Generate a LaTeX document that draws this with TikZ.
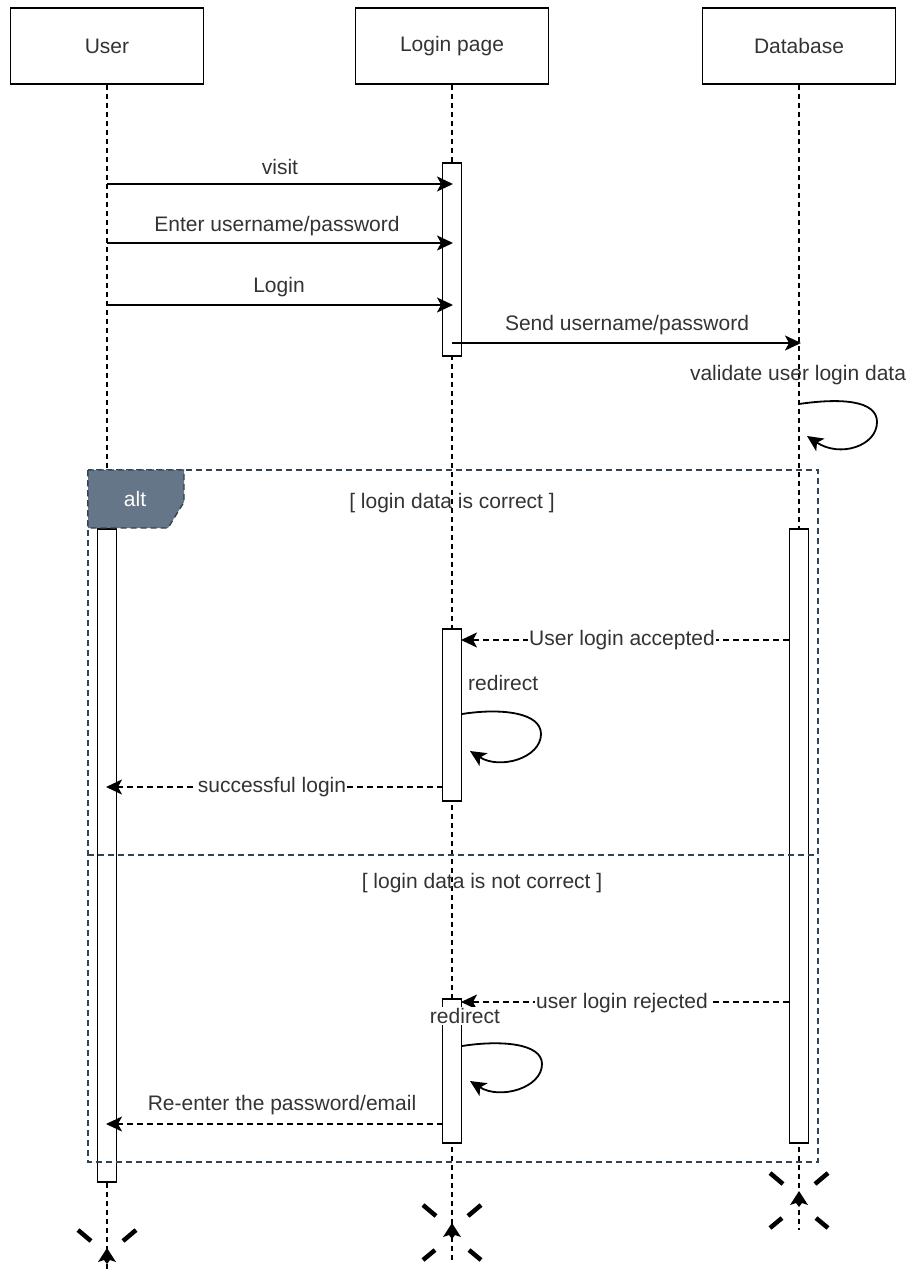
\documentclass[tikz,border=0pt]{standalone}
\usepackage{fontspec}
\setmainfont{Liberation Sans}
\usetikzlibrary{arrows.meta}
\definecolor{txt}{HTML}{333333}
\definecolor{altfill}{HTML}{647687}
\definecolor{altdraw}{HTML}{314354}
\begin{document}
\begin{tikzpicture}[x=1pt,y=-1pt,
  font=\fontsize{21}{25}\selectfont, text=txt,
  head/.style={draw, line width=1.6pt, minimum width=193pt, minimum height=76pt, inner sep=0pt},
  life/.style={line width=1.4pt, dash pattern=on 5pt off 4pt},
  act/.style={draw, fill=white, line width=1.6pt, minimum width=19pt, inner sep=0pt, anchor=north},
  msg/.style={line width=1.8pt, -{Stealth[length=16pt,width=15pt,inset=4pt]}},
  ret/.style={msg, dash pattern=on 6pt off 4pt},
  lbl/.style={inner sep=1pt},
  lblw/.style={fill=white, inner sep=1pt},
  frm/.style={line width=1.4pt, dash pattern=on 6pt off 4pt, draw=altdraw},
  xarm/.style={line width=4.5pt},
  xtip/.style={fill=black}
]
\useasboundingbox (0,0) rectangle (911,1276);

% headers
\node[head] (user) at (107,46) {User};
\node[head] (page) at (452,46) {Login page};
\node[head] (db) at (799,46) {Database};

% lifeline ends
\coordinate (uend) at (107,1270);
\coordinate (pend) at (452,1262);
\coordinate (dend) at (799,1230);
\draw[life] (user.south) -- (uend);
\draw[life] (page.south) -- (pend);
\draw[life] (db.south) -- (dend);

% activations
\node[act, minimum height=193pt] (pa1) at (452,162) {};
\node[act, minimum height=653pt] (ua) at (107,528) {};
\node[act, minimum height=614pt] (da) at (799,528) {};
\node[act, minimum height=172pt] (pa2) at (452,628) {};
\node[act, minimum height=144pt] (pa3) at (452,998) {};

% message anchors
\coordinate (m1s) at (107,184); \coordinate (m1e) at (453,184);
\coordinate (m2s) at (107,243); \coordinate (m2e) at (453,243);
\coordinate (m3s) at (107,305); \coordinate (m3e) at (453,305);
\coordinate (m4s) at (452,343); \coordinate (m4e) at (801,343);
\coordinate (l1s) at (799,404); \coordinate (l1e) at (807,436);
\coordinate (m5s) at (789,640); \coordinate (m5e) at (461,640);
\coordinate (l2s) at (462,714); \coordinate (l2e) at (470,751);
\coordinate (m6s) at (443,787); \coordinate (m6e) at (106,787);
\coordinate (m7s) at (789,1002); \coordinate (m7e) at (461,1002);
\coordinate (l3s) at (462,1046); \coordinate (l3e) at (470,1081);
\coordinate (m8s) at (443,1124); \coordinate (m8e) at (106,1124);

\draw[msg] (m1s) -- (m1e);
\draw[msg] (m2s) -- (m2e);
\draw[msg] (m3s) -- (m3e);
\draw[msg] (m4s) -- (m4e);
\draw[msg] (l1s) .. controls (840,398) and (877,400) .. (877,422) .. controls (877,446) and (840,458) .. (l1e);
\draw[ret] (m5s) -- (m5e);
\draw[msg] (l2s) .. controls (500,708) and (541,712) .. (541,734) .. controls (541,758) and (500,770) .. (l2e);
\draw[ret] (m6s) -- (m6e);
\draw[ret] (m7s) -- (m7e);
\draw[msg] (l3s) .. controls (500,1040) and (542,1043) .. (542,1064) .. controls (542,1088) and (500,1100) .. (l3e);
\draw[ret] (m8s) -- (m8e);

% labels
\node[lbl] (t1) at (280,167) {visit};
\node[lbl] (t2) at (277,226) {Enter username/password};
\node[lbl] (t3) at (279,287) {Login};
\node[lbl] (t4) at (627,325) {Send username/password};
\node[lbl] (t5) at (798,375) {validate user login data};
\node[lblw] (t6) at (622,640) {User login accepted};
\node[lbl, anchor=west] (t7) at (467,683) {redirect};
\node[lblw] (t8) at (272,787) {successful login};
\node[lblw] (t9) at (622,1003) {user login rejected};
\node[lblw] (t10) at (465,1016) {redirect};
\node[lbl] (t11) at (282,1105) {Re-enter the password/email};

% alt frame
\draw[frm] (88,470) rectangle (818,1162);
\draw[frm] (88,855) -- (818,855);
\draw[frm, fill=altfill] (88,470) -- (184,470) -- (184,502) -- (168,528) -- (88,528) -- cycle;
\node[text=white] (alt) at (135,499) {alt};
\node[lbl] (c1) at (452,503) {[ login data is correct ]};
\node[lbl] (c2) at (482,883) {[ login data is not correct ]};

% destruction marks
\foreach \cx/\cy/\low in {107/1257/0, 452/1232/1, 799/1200/1} {
  \draw[xarm] (\cx-29,\cy-27) -- (\cx-16,\cy-16);
  \draw[xarm] (\cx+29,\cy-27) -- (\cx+16,\cy-16);
  \ifnum\low=1
    \draw[xarm] (\cx-29,\cy+28) -- (\cx-17,\cy+18);
    \draw[xarm] (\cx+29,\cy+28) -- (\cx+17,\cy+18);
  \fi
  \fill[xtip] (\cx,\cy-9) -- (\cx+9,\cy+5) -- (\cx+3,\cy+3) -- (\cx,\cy+7) -- (\cx-3,\cy+3) -- (\cx-9,\cy+5) -- cycle;
}
\end{tikzpicture}
\end{document}
